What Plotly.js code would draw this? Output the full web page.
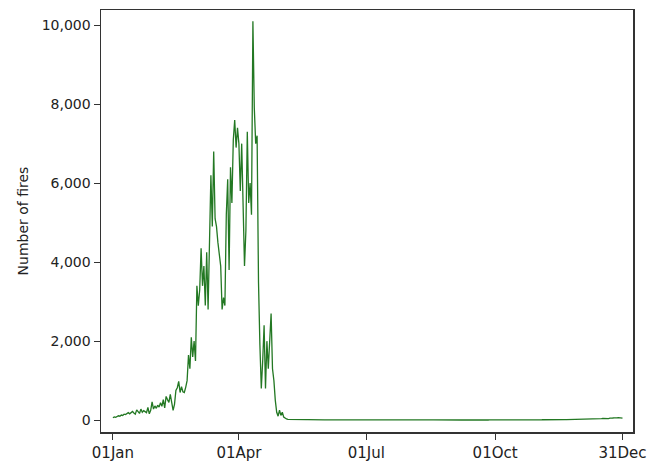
<!DOCTYPE html>
<html>
<head>
<meta charset="utf-8">
<script src="https://cdn.plot.ly/plotly-3.0.1.min.js"></script>
<style>
  html, body { margin: 0; padding: 0; background: #ffffff; }
  #chart { width: 664px; height: 461px; }
</style>
</head>
<body>
<div id="chart"></div>
<script>
// Daily number of fires, 01Jan .. 31Dec (365 days)
const startYear = 2019;
const fires = [
  60, 80, 70, 90, 110, 100, 130, 120, 150, 140,
  170, 190, 160, 200, 220, 180, 150, 260, 200, 170,
  280, 200, 240, 220, 190, 320, 160, 250, 460, 280,
  360, 300, 380, 330, 440, 350, 520, 310, 600, 520,
  450, 650, 480, 250, 400, 750, 820, 980, 700, 850,
  720, 700, 830, 1000, 1650, 1300, 2100, 1600, 2000, 1500,
  3400, 2900, 3300, 4350, 3400, 3900, 2900, 4250, 2800, 4500,
  6200, 4900, 6800, 5100, 4900, 4500, 4200, 3900, 2800, 3100,
  2900, 5200, 6100, 3800, 6400, 5500, 7100, 7600, 6900, 7400,
  7000, 5800, 7000, 5000, 3900, 4800, 7300, 5500, 6000, 5200,
  10100, 7900, 7000, 7200, 3500, 1900, 800, 1500, 2400, 800,
  2000, 1300, 2200, 2700, 1300, 1000, 500, 200, 100, 250,
  120, 200, 80, 50, 30,
  20, 18, 15, 14, 16, 12, 15, 13, 11, 14,
  12, 10, 13, 11, 12, 10, 9, 11, 12, 10,
  9, 10, 8, 11, 9, 10, 8, 9, 10, 8,
  7, 9, 8, 10, 8, 7, 9, 8, 7, 9,
  8, 7, 9, 8, 6, 8, 7, 9, 8, 7,
  6, 8, 7, 6, 8, 7, 6, 7, 8, 6,
  7, 6, 8, 7, 6, 7, 5, 7, 6, 8,
  6, 7, 5, 6, 7, 6, 5, 7, 6, 5,
  6, 5, 7, 6, 5, 6, 7, 5, 6, 5,
  5, 6, 5, 7, 5, 6, 5, 6, 4, 6,
  5, 6, 4, 5, 6, 5, 4, 6, 5, 4,
  5, 4, 6, 5, 4, 5, 6, 4, 5, 4,
  5, 6, 4, 5, 4, 6, 5, 4, 5, 6,
  4, 5, 6, 5, 4, 6, 5, 5, 4, 6,
  5, 6, 5, 4, 6, 5, 7, 5, 6, 5,
  6, 5, 7, 6, 5, 7, 6, 5, 7, 6,
  7, 6, 8, 6, 7, 8, 6, 7, 8, 7,
  8, 7, 9, 7, 8, 9, 7, 8, 10, 8,
  9, 8, 10, 9, 8, 10, 11, 9, 10, 12,
  10, 11, 12, 10, 13, 11, 12, 14, 11, 13,
  14, 12, 15, 13, 14, 16, 13, 15, 17, 14,
  16, 15, 18, 16, 17, 19, 16, 18, 20, 17,
  19,
  30, 35, 40, 38, 45, 42, 50, 46, 40, 52,
  48, 55, 60, 50, 58, 65, 55, 62, 50
];
const tickDates = ['2019-01-01', '2019-04-01', '2019-07-01', '2019-10-01', '2019-12-31'];
const tickLabels = ['01Jan', '01Apr', '01Jul', '01Oct', '31Dec'];
const yTicks = [0, 2000, 4000, 6000, 8000, 10000];

const dates = fires.map((_, i) => {
  const d = new Date(Date.UTC(startYear, 0, 1 + i));
  return d.toISOString().slice(0, 10);
});

const fontFam = 'Verdana, "DejaVu Sans", sans-serif';
const axisCol = '#333333';
const textCol = '#222222';

const trace = {
  x: dates,
  y: fires,
  type: 'scatter',
  mode: 'lines',
  line: { color: 'rgb(35,120,35)', width: 1.3 },
  hoverinfo: 'x+y'
};

const layout = {
  width: 664,
  height: 461,
  margin: { l: 101, r: 31, t: 10, b: 29 },
  paper_bgcolor: '#ffffff',
  plot_bgcolor: '#ffffff',
  showlegend: false,
  font: { family: fontFam, size: 14, color: textCol },
  xaxis: {
    type: 'date',
    range: ['2018-12-23 12:00', '2020-01-07 12:00'],
    tickvals: tickDates,
    ticktext: tickLabels,
    ticks: 'outside',
    ticklen: 6,
    tickwidth: 1,
    tickcolor: axisCol,
    showline: true,
    linecolor: axisCol,
    linewidth: 1.5,
    mirror: true,
    showgrid: false,
    zeroline: false,
    tickfont: { family: fontFam, size: 15, color: textCol }
  },
  yaxis: {
    range: [-300, 10383],
    tickvals: yTicks,
    tickformat: ',d',
    ticks: 'outside',
    ticklen: 6,
    tickwidth: 1,
    tickcolor: axisCol,
    showline: true,
    linecolor: axisCol,
    linewidth: 1.5,
    mirror: true,
    showgrid: false,
    zeroline: false,
    tickfont: { family: fontFam, size: 14, color: textCol },
    title: { text: 'Number of fires', font: { family: fontFam, size: 14, color: textCol }, standoff: 10 }
  }
};

Plotly.newPlot('chart', [trace], layout, { displayModeBar: false, staticPlot: true });
</script>
</body>
</html>
